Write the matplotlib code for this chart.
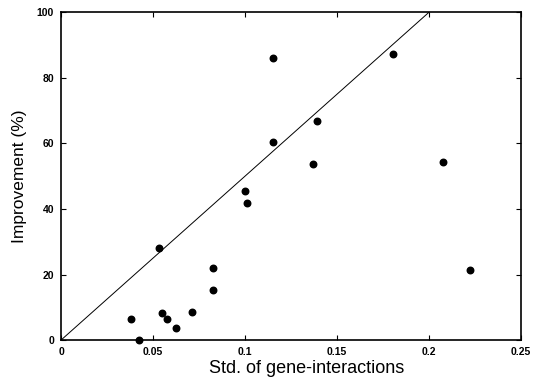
import numpy as np
import matplotlib
matplotlib.use("Agg")
import matplotlib.pyplot as plt

plt.rcParams['font.family'] = ['Liberation Sans', 'DejaVu Sans']

# data
std_inter = [0.0379, 0.0422, 0.0531, 0.0549, 0.0578, 0.0623, 0.0712, 0.0828, 0.0828,
             0.1000, 0.1013, 0.1152, 0.1152, 0.1370, 0.1393, 0.1803, 0.2074, 0.2225]
improvement = [6.5, 0.0, 28.1, 8.3, 6.5, 3.7, 8.5, 21.9, 15.4,
               45.4, 41.9, 85.9, 60.4, 53.7, 66.7, 87.2, 54.2, 21.4]
line_x = [0.0, 0.2]
line_y = [0.0, 100.0]

xticks = [0, 0.05, 0.1, 0.15, 0.2, 0.25]
xtick_labels = ['0', '0.05', '0.1', '0.15', '0.2', '0.25']
yticks = [0, 20, 40, 60, 80, 100]

fig = plt.figure(figsize=(5.4, 3.8), dpi=100)
ax = fig.add_axes([0.113, 0.105, 0.852, 0.863])

ax.plot(line_x, line_y, color='black', lw=0.7)
ax.scatter(std_inter, improvement, s=22, color='black', zorder=3, clip_on=False)

ax.set_xlim(0, 0.25)
ax.set_ylim(0, 100)
ax.set_xticks(xticks)
ax.set_xticklabels(xtick_labels)
ax.set_yticks(yticks)
ax.tick_params(direction='in', top=True, right=True, length=3.5, width=0.8,
               labelsize=7.5, pad=5)
for lab in ax.get_xticklabels() + ax.get_yticklabels():
    lab.set_fontweight('bold')
for s in ax.spines.values():
    s.set_linewidth(1.2)

ax.set_xlabel('Std. of gene-interactions', fontsize=13)
ax.xaxis.set_label_coords(0.533, -0.062)
ax.set_ylabel('Improvement (%)', fontsize=12.5)
ax.yaxis.set_label_coords(-0.073, 0.5)

fig.savefig('out.png', dpi=100)
